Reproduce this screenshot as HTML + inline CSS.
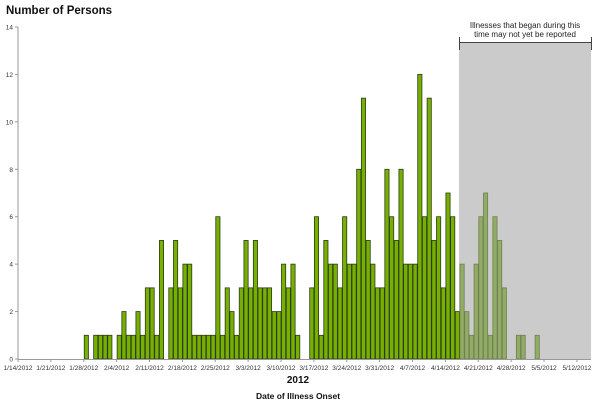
<!DOCTYPE html>
<html><head><meta charset="utf-8"><style>
body{margin:0;background:#fff;}
svg{display:block;font-family:"Liberation Sans",sans-serif;}
</style></head><body>
<svg id="chart" width="600" height="403" viewBox="0 0 600 403" xmlns="http://www.w3.org/2000/svg">
<text x="6" y="14" font-size="11.5" font-weight="bold" fill="#111">Number of Persons</text>
<rect x="459" y="43" width="132" height="316" fill="#cbcbcb"/>
<g stroke="#444" stroke-width="1">
<line x1="459.5" y1="42.5" x2="591.5" y2="42.5"/>
<line x1="459.5" y1="37" x2="459.5" y2="50"/>
<line x1="591.5" y1="37" x2="591.5" y2="50"/>
</g>
<text x="525" y="28" font-size="8" text-anchor="middle" fill="#222">Illnesses that began during this</text>
<text x="525" y="37" font-size="8" text-anchor="middle" fill="#222">time may not yet be reported</text>
<g id="bars"></g>
<g id="axes"></g>
<text x="298" y="383" font-size="10" font-weight="bold" text-anchor="middle" fill="#111">2012</text>
<text x="298" y="399" font-size="8.5" font-weight="bold" text-anchor="middle" fill="#111">Date of Illness Onset</text>
</svg>
<script>
// daily counts starting 1/14/2012 (day 0)
const counts = [0,0,0,0,0,0,0,0,0,0,0,0,0,0,
1,0,1,1,1,1,0,1,2,1,1,2,1,3,3,1,5,0,3,5,3,4,4,1,1,1,1,1,6,1,3,2,1,3,5,3,5,3,3,3,2,2,4,3,4,1,0,0,3,6,1,5,4,4,3,6,4,4,8,11,5,4,3,3,8,6,5,8,4,4,4,12,6,11,5,6,3,7,6,2,
4,2,1,4,6,7,1,6,5,3,0,0,1,1,0,0,1];
const tickLabels = ["1/14/2012","1/21/2012","1/28/2012","2/4/2012","2/11/2012","2/18/2012","2/25/2012","3/3/2012","3/10/2012","3/17/2012","3/24/2012","3/31/2012","4/7/2012","4/14/2012","4/21/2012","4/28/2012","5/5/2012","5/12/2012"];
const yTicks = [0,2,4,6,8,10,12,14];
const incompleteStart = 94;
const totalDays = 122;

const NS="http://www.w3.org/2000/svg";
const x0=18, x1=591, y0=359, yTop=27, yMax=14;
const dayW=(x1-x0)/totalDays;
const xs=d=>x0+d*dayW;
const ys=v=>y0-(y0-yTop)*v/yMax;
const bars=document.getElementById('bars');
counts.forEach((v,d)=>{
  if(!v) return;
  const r=document.createElementNS(NS,'rect');
  
  
  r.setAttribute('x',xs(d)+0.5);r.setAttribute('width',dayW-0.5);
  r.setAttribute('y',ys(v));r.setAttribute('height',y0-ys(v));
  const faded=d>=incompleteStart;
  r.setAttribute('fill',faded?'#92ad63':'#76b000');
  r.setAttribute('stroke',faded?'#6f7f58':'#2e3a1a');
  r.setAttribute('stroke-width','0.8');
  bars.appendChild(r);
});
const ax=document.getElementById('axes');
function line(a,b,c,d,n){const l=document.createElementNS(NS,'line');


l.setAttribute('x1',a);l.setAttribute('y1',b);l.setAttribute('x2',c);l.setAttribute('y2',d);l.setAttribute('stroke','#999');ax.appendChild(l);}
line(x0,yTop,x0,y0,'y-axis-line');
line(x0,y0+0.5,x1,y0+0.5,'x-axis-line');
yTicks.forEach(v=>{
  line(x0-3,ys(v),x0,ys(v),'y-tick');
  const t=document.createElementNS(NS,'text');
  
  
  t.setAttribute('x',13);t.setAttribute('y',ys(v)+2.5);t.setAttribute('font-size','6.5');t.setAttribute('text-anchor','end');t.setAttribute('fill','#333');
  t.textContent=v;ax.appendChild(t);
});
tickLabels.forEach((s,i)=>{
  const x=xs(i*7);
  line(x,y0,x,y0+3,'x-tick');
  const t=document.createElementNS(NS,'text');
  
  
  t.setAttribute('x',x);t.setAttribute('y',370);t.setAttribute('font-size','6.5');t.setAttribute('text-anchor','middle');t.setAttribute('fill','#333');
  t.textContent=s;ax.appendChild(t);
});
</script>
</body></html>
